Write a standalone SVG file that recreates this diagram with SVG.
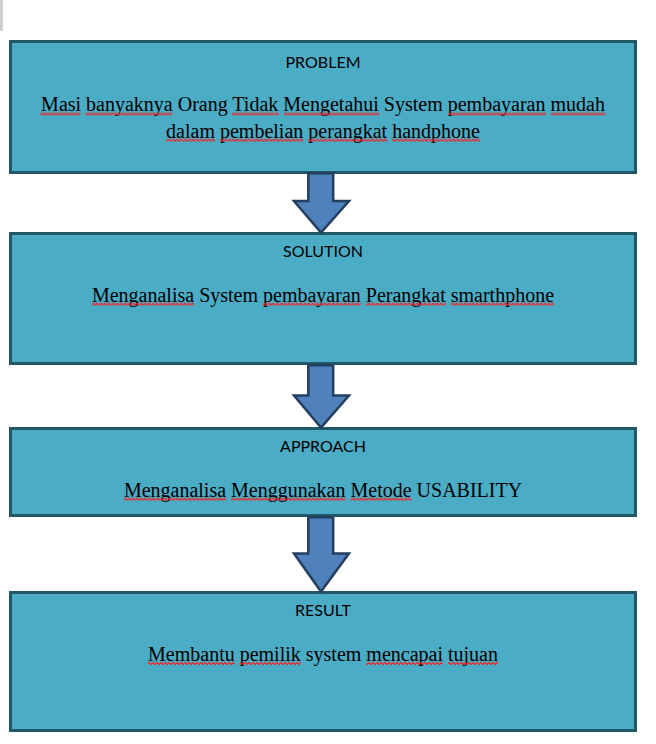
<svg xmlns="http://www.w3.org/2000/svg" width="656" height="744" viewBox="0 0 656 744">
<style>
.box{fill:#4BACC6;stroke:#215868;stroke-width:3}
.arrow{fill:#4F81BD;stroke:#243F60;stroke-width:2.5;stroke-linejoin:miter}
.title{font-family:Lato,"Liberation Sans",sans-serif;font-size:16px;fill:#000;text-anchor:middle}
.body{font-family:"Liberation Serif","Times New Roman",serif;font-size:20px;fill:#000;text-anchor:middle}
.sq{fill:url(#squig)}
</style>
<defs>
<pattern id="squig" patternUnits="userSpaceOnUse" width="4" height="3">
<path d="M0,1.5 L1,0.5 L3,2.5 L4,1.5" fill="none" stroke="#FF1A1A" stroke-width="1.2"/>
</pattern>
</defs>
<rect x="0" y="0" width="3" height="31" fill="#CFCFCF"/>
<g id="problem">
<rect class="box" x="10.5" y="41.5" width="625" height="131"/>
<text class="title" x="323" y="68.3">PROBLEM</text>
<text class="body" x="323" y="111.3">Masi banyaknya Orang Tidak Mengetahui System pembayaran mudah</text>
<text class="body" x="323" y="137.5">dalam pembelian perangkat handphone</text>
<g transform="translate(0,112.5)">
<rect class="sq" x="40.5" y="0" width="40" height="3"/>
<rect class="sq" x="85.5" y="0" width="86.7" height="3"/>
<rect class="sq" x="232.2" y="0" width="46.6" height="3"/>
<rect class="sq" x="283.8" y="0" width="95.6" height="3"/>
<rect class="sq" x="448.3" y="0" width="97.7" height="3"/>
<rect class="sq" x="551" y="0" width="54.5" height="3"/>
</g>
<g transform="translate(0,138.7)">
<rect class="sq" x="166.1" y="0" width="48.9" height="3"/>
<rect class="sq" x="220" y="0" width="83.3" height="3"/>
<rect class="sq" x="308.3" y="0" width="78.9" height="3"/>
<rect class="sq" x="392.2" y="0" width="87.7" height="3"/>
</g>
</g>
<g id="solution">
<rect class="box" x="10.5" y="233.5" width="625" height="130"/>
<text class="title" x="323" y="256.7">SOLUTION</text>
<text class="body" x="323" y="301.5">Menganalisa System pembayaran Perangkat smarthphone</text>
<g transform="translate(0,302.7)">
<rect class="sq" x="91.9" y="0" width="102.2" height="3"/>
<rect class="sq" x="263" y="0" width="97.8" height="3"/>
<rect class="sq" x="365.8" y="0" width="80" height="3"/>
<rect class="sq" x="450.8" y="0" width="103.3" height="3"/>
</g>
</g>
<g id="approach">
<rect class="box" x="10.5" y="428.5" width="625" height="87"/>
<text class="title" x="323" y="451.7">APPROACH</text>
<text class="body" x="323" y="496.5">Menganalisa Menggunakan Metode USABILITY</text>
<g transform="translate(0,497.7)">
<rect class="sq" x="123.9" y="0" width="102.2" height="3"/>
<rect class="sq" x="231.1" y="0" width="114.4" height="3"/>
<rect class="sq" x="350.5" y="0" width="61.1" height="3"/>
</g>
</g>
<g id="result">
<rect class="box" x="10.5" y="592.5" width="625" height="138"/>
<text class="title" x="323" y="615.7">RESULT</text>
<text class="body" x="323" y="660.8">Membantu pemilik system mencapai tujuan</text>
<g transform="translate(0,662)">
<rect class="sq" x="148" y="0" width="86.7" height="3"/>
<rect class="sq" x="239.7" y="0" width="61.1" height="3"/>
<rect class="sq" x="366.4" y="0" width="76.6" height="3"/>
<rect class="sq" x="448" y="0" width="50" height="3"/>
</g>
</g>
<g id="connectors">
<path class="arrow" d="M308.3,173.2 H333.2 V201 H349 L321,232.5 L294,201 H308.3 Z"/>
<path class="arrow" d="M308.3,365.2 H333.2 V395.5 H349 L321,427.5 L294,395.5 H308.3 Z"/>
<path class="arrow" d="M308.3,517.2 H333.2 V553.5 H349 L321,591.5 L294,553.5 H308.3 Z"/>
</g>
</svg>
